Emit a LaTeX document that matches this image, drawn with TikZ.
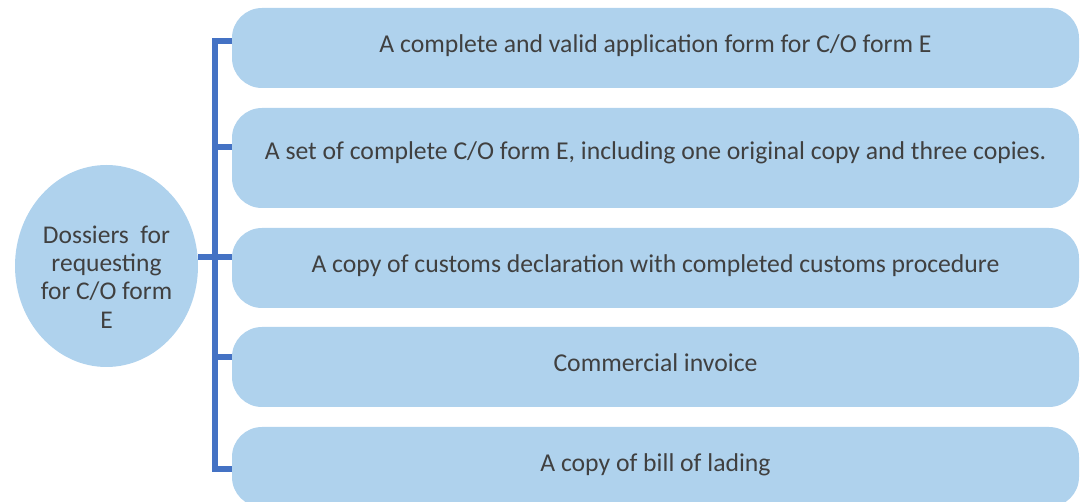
\documentclass[tikz,border=0pt]{standalone}
\usepackage{fontspec}
\setmainfont{Carlito}
\usetikzlibrary{shapes.geometric}
\definecolor{itemfill}{RGB}{175,210,237}
\definecolor{spinecol}{RGB}{68,114,196}
\definecolor{inktext}{RGB}{64,64,64}
\begin{document}
\begin{tikzpicture}[x=1pt,y=-1pt,
  item/.style={rectangle, rounded corners=30pt, fill=itemfill, draw=none,
    minimum width=847pt, minimum height=80pt, inner sep=0pt, outer sep=0pt,
    text=inktext, font=\fontsize{25.7}{28.2}\selectfont,
    text height=1.1em, text depth=0.1em},
  hub/.style={ellipse, fill=itemfill, draw=none, minimum width=183pt,
    minimum height=202pt, inner sep=0pt, outer sep=0pt},
  hubtext/.style={align=center, text=inktext, inner sep=0pt,
    font=\fontsize{25.5}{28.2}\selectfont},
  link/.style={draw=spinecol, line width=5.5pt}]
\useasboundingbox (0,0) rectangle (1080,502);

% central topic
\node[hub] (hub) at (106.5,266) {};
\node[hubtext] (hublabel) at (106.5,277) {Dossiers\ \ for\\requesting\\for C/O form\\E};

% list of required documents
\node[item] (b1) at (655.5,48) {A complete and valid application form for C/O form E};
\node[item, minimum height=100pt, text height=0.75em, text depth=0.5em] (b2) at (655.5,158)
  {A set of complete C/O form E, including one original copy and three copies.};
\node[item] (b3) at (655.5,268) {A copy of customs declaration with completed customs procedure};
\node[item] (b4) at (655.5,367) {Commercial invoice};
\node[item] (b5) at (655.5,467) {A copy of bill of lading};

% bracket joining the items
\draw[link] ([yshift=7pt]b1.west) -- ++(-17,0) |- ([yshift=-2pt]b5.west);
\draw[link] ([yshift=11pt]b2.west) -- ++(-17,0);
\draw[link] ([yshift=10pt]b4.west) -- ++(-17,0);
\draw[link] ([yshift=9pt]hub.east) -- ([yshift=11pt]b3.west);
\end{tikzpicture}
\end{document}
